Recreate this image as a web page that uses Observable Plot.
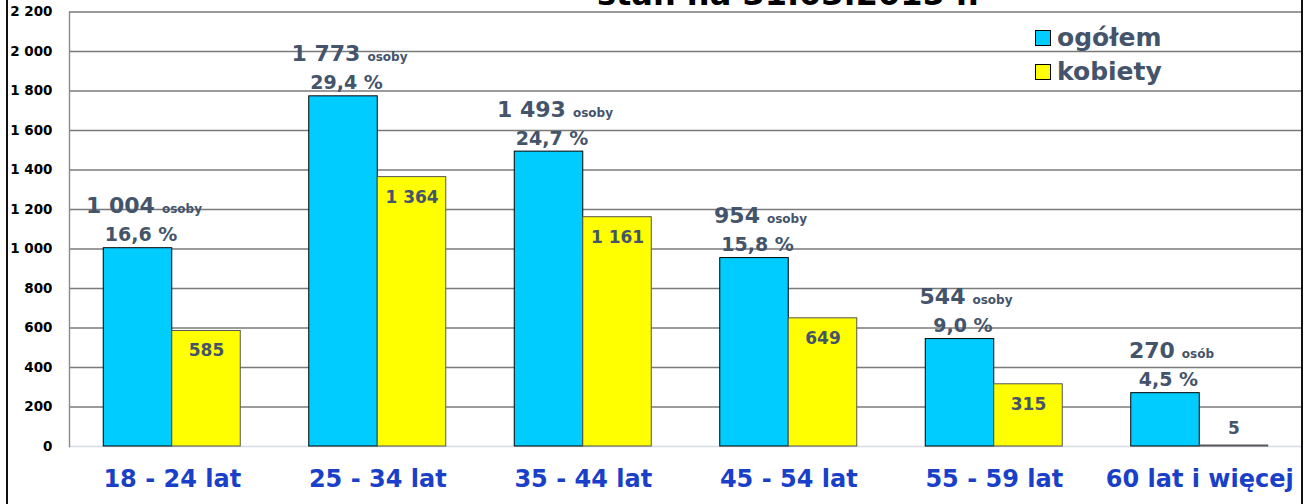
<!DOCTYPE html>
<html>
<head>
<meta charset="utf-8">
<script src="https://cdn.jsdelivr.net/npm/d3@7"></script>
<script src="https://cdn.jsdelivr.net/npm/@observablehq/plot@0.6"></script>
<style>
  html, body { margin: 0; padding: 0; background: #fff; overflow: hidden; }
  #wrap { position: relative; width: 1306px; height: 504px; overflow: hidden; background: #fff; font-family: "DejaVu Sans", sans-serif; }
  #wrap svg { position: absolute; left: 0; top: 0; }
  .title { position: absolute; left: 597px; top: -22px; font-size: 32px; font-weight: bold; line-height: 1; color: #000; white-space: nowrap; }
  .border { position: absolute; top: 0; width: 2px; height: 504px; background: #111; }
  .legend { position: absolute; left: 1035px; font-size: 25px; font-weight: bold; color: #44546a; line-height: 1; white-space: nowrap; }
  .legend .sw { display: inline-block; width: 14px; height: 14px; border: 1px solid #000; margin-right: 6px; vertical-align: 0px; }
</style>
</head>
<body>
<div id="wrap"></div>
<script>
// ---- data ----
const categories = ["18 - 24 lat", "25 - 34 lat", "35 - 44 lat", "45 - 54 lat", "55 - 59 lat", "60 lat i więcej"];
const ogolem = [1004, 1773, 1493, 954, 544, 270];
const kobiety = [585, 1364, 1161, 649, 315, 5];
const percents = ["16,6 %", "29,4 %", "24,7 %", "15,8 %", "9,0 %", "4,5 %"];
const units = ["osoby", "osoby", "osoby", "osoby", "osoby", "osób"];
const yTicks = [0, 200, 400, 600, 800, 1000, 1200, 1400, 1600, 1800, 2000, 2200];
const seriesNames = ["ogółem", "kobiety"];
const titleText = "stan na 31.03.2015 r.";

// ---- layout ----
const W = 1306, H = 504, ML = 69, MR = 4, MT = 11.5, MB = 58;
const bw = (W - ML - MR) / categories.length * (2 / 3);
const colBlue = "#00ccff", colYellow = "#ffff00", labelCol = "#44546a", countCol = "#44546b";
const fmt = v => d3.format(",")(v).replace(/,/g, "\u00a0");

const rows = categories.map((c, i) => ({ c, o: ogolem[i], k: kobiety[i], p: percents[i], u: units[i] }));

const chart = Plot.plot({
  width: W, height: H,
  marginLeft: ML, marginRight: MR, marginTop: MT, marginBottom: MB,
  style: { fontFamily: "DejaVu Sans", background: "transparent", overflow: "visible" },
  x: { domain: categories, paddingInner: 1 / 3, paddingOuter: 1 / 6, round: false, label: null },
  y: { domain: [0, 2200], label: null },
  marks: [
    Plot.ruleY(yTicks.filter(t => t > 0), { stroke: "#7a7a7a", strokeWidth: 1.4 }),
    Plot.ruleY([0], { stroke: "#d5dce6", strokeWidth: 1.5 }),
    Plot.frame({ anchor: "left", stroke: "#8a8a8a", strokeWidth: 1.4 }),
    Plot.barY(rows, { x: "c", y: "o", fill: colBlue, stroke: "#000", strokeWidth: 1, insetRight: bw / 2 }),
    Plot.barY(rows, { x: "c", y: "k", fill: colYellow, stroke: "#555", strokeWidth: 1, insetLeft: bw / 2 }),
    Plot.text(rows, { x: "c", y: "o", text: "p", dx: -bw / 4 + 3, dy: -13, fontSize: 19, fontWeight: "bold", fill: labelCol }),
    Plot.text(rows, { x: "c", y: "o", text: d => fmt(d.o), dx: -bw / 4 + 6, dy: -42, fontSize: 22, fontWeight: "bold", fill: countCol }),
    Plot.text(rows.filter(d => d.k >= 100), { x: "c", y: "k", text: d => fmt(d.k), dx: bw / 4, dy: 20, fontSize: 17, fontWeight: "bold", fill: labelCol }),
    Plot.text(rows.filter(d => d.k < 100), { x: "c", y: "k", text: d => fmt(d.k), dx: bw / 4, dy: -17, fontSize: 17, fontWeight: "bold", fill: labelCol }),
    Plot.axisY({ ticks: yTicks, tickFormat: fmt, tickSize: 0, tickPadding: 17, fontSize: 13, label: null }),
    Plot.axisX({ tickSize: 0, tickPadding: 23, fontSize: 24, label: null })
  ]
});

// style axes
const svg = d3.select(chart.tagName.toLowerCase() === "svg" ? chart : chart.querySelector("svg"));
svg.selectAll('g[aria-label="y-axis tick label"]').attr("font-weight", "bold").attr("fill", "#000").attr("font-size", 13.5);
svg.selectAll('g[aria-label="x-axis tick label"]').attr("font-weight", "bold").attr("fill", "#1a3fc8").attr("font-size", 24);

// count labels: big number + small unit
svg.selectAll("text").filter(function () {
  const g = this.closest("g[fill]");
  return g && g.getAttribute("fill") === countCol;
}).each(function (_, i) {
  const t = d3.select(this);
  t.text(null);
  t.append("tspan").attr("font-size", 22).text(fmt(rows[i].o));
  t.append("tspan").attr("font-size", 12).attr("dx", 7).text(rows[i].u);
});

const wrap = document.getElementById("wrap");
wrap.appendChild(chart);

// title (cropped at top as in the reference)
const title = document.createElement("div");
title.className = "title";
title.textContent = titleText;
wrap.appendChild(title);

// outer borders
for (const x of [6, 1301]) {
  const b = document.createElement("div");
  b.className = "border";
  b.style.left = x + "px";
  wrap.appendChild(b);
}

// legend
[[seriesNames[0], colBlue, 25], [seriesNames[1], colYellow, 59]].forEach(([name, col, top]) => {
  const d = document.createElement("div");
  d.className = "legend";
  d.style.top = top + "px";
  d.innerHTML = `<span class="sw" style="background:${col}"></span>${name}`;
  wrap.appendChild(d);
});
</script>
</body>
</html>
